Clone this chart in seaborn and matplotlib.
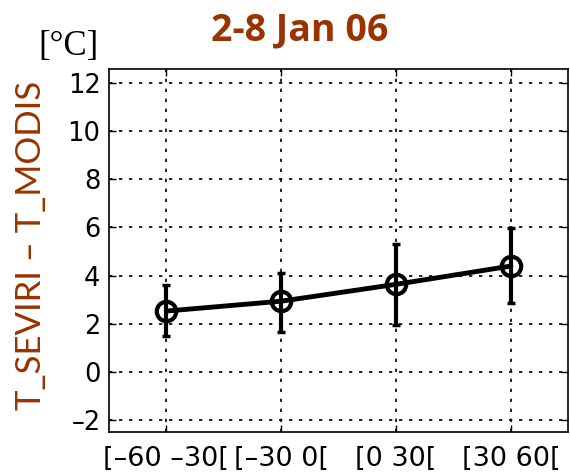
import numpy as np
import matplotlib
matplotlib.use("Agg")
import matplotlib.pyplot as plt
import pandas as pd
import seaborn as sns

bins = ['[–60 –30[', '[–30 0[', '[0 30[', '[30 60[']
mean_diff = [2.53, 2.94, 3.64, 4.40]
err_low = [1.51, 1.67, 1.95, 2.86]
err_high = [3.63, 4.12, 5.31, 5.98]
yticks = [-2, 0, 2, 4, 6, 8, 10, 12]

brown = '#993300'

sns.set_style('ticks')
plt.rcParams['font.family'] = ['DejaVu Sans']

df = pd.DataFrame({'pos': np.arange(1, len(bins) + 1), 'diff': mean_diff})

fig = plt.figure(figsize=(5.7, 4.76), dpi=100)
ax = fig.add_axes([0.191, 0.092, 0.806, 0.764])

lower = np.array(mean_diff) - np.array(err_low)
upper = np.array(err_high) - np.array(mean_diff)
ax.errorbar(df['pos'], df['diff'], yerr=[lower, upper], fmt='none',
            ecolor='black', elinewidth=3, capsize=3, capthick=2.5, zorder=3)
sns.lineplot(data=df, x='pos', y='diff', ax=ax, color='black', linewidth=3.5,
             marker='o', markersize=14, markerfacecolor='none',
             markeredgecolor='black', markeredgewidth=3, zorder=4)

ax.set_xlim(0.5, 4.5)
ax.set_ylim(-2.5, 12.6)
ax.set_xticks(df['pos'])
ax.set_xticklabels(bins, fontsize=19.5)
ax.set_yticks(yticks)
ax.set_yticklabels(['–2' if v == -2 else str(v) for v in yticks], fontsize=18.5)
ax.tick_params(direction='in', length=5, width=1, top=True, right=True, pad=6,
               colors='black')
ax.tick_params(axis='x', pad=10)
ax.grid(True, color='black', linestyle=(0, (2, 4)), linewidth=1.2)
for s in ax.spines.values():
    s.set_color('black')
    s.set_linewidth(1.2)

ax.set_xlabel('')
ax.set_ylabel('T_SEVIRI – T_MODIS', color=brown, fontsize=25,
              family=['Lato', 'DejaVu Sans'])
ax.yaxis.set_label_coords(-0.135, 0.514)

fig.text(0.526, 0.935, '2-8 Jan 06', color=brown, fontsize=27, fontweight='bold',
         ha='center', va='center', family=['Open Sans', 'DejaVu Sans'])
fig.text(0.068, 0.903, '[°C]', color='black', fontsize=25, ha='left', va='center',
         family=['Liberation Serif', 'DejaVu Serif'])

fig.savefig('out.png', dpi=100)
